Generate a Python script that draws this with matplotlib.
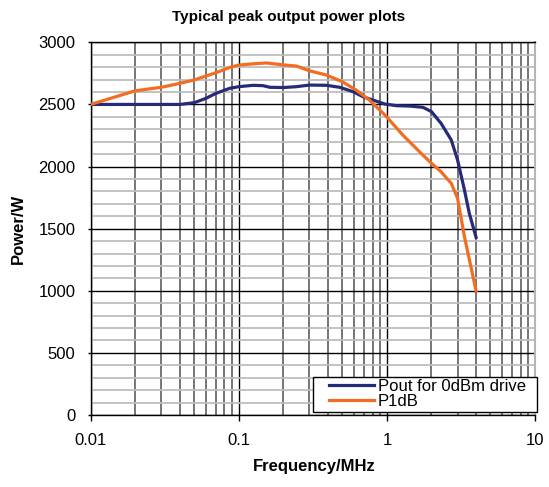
import numpy as np
import matplotlib.pyplot as plt
from matplotlib.lines import Line2D
from matplotlib.legend_handler import HandlerLine2D
from matplotlib.ticker import FixedLocator, LogLocator, NullFormatter

plt.rcParams['font.family'] = ['Liberation Sans', 'DejaVu Sans']

# Pout for 0dBm drive
freq_pout = [0.01, 0.02, 0.03, 0.04, 0.05, 0.06, 0.07, 0.087, 0.1, 0.125, 0.146, 0.162,
             0.2, 0.245, 0.3, 0.39, 0.48, 0.59, 0.69, 0.8, 0.97, 1.16, 1.42, 1.75,
             2.0, 2.32, 2.72, 3.0, 3.34, 3.6, 4.0]
pout = [2500, 2500, 2500, 2500, 2514, 2549, 2589, 2630, 2643, 2654, 2651, 2638,
        2636, 2643, 2656, 2654, 2638, 2603, 2562, 2536, 2503, 2490, 2487, 2477,
        2442, 2348, 2214, 2053, 1811, 1624, 1430]

# P1dB
freq_p1db = [0.01, 0.02, 0.03, 0.04, 0.05, 0.06, 0.07, 0.087, 0.1, 0.125, 0.154, 0.2,
             0.245, 0.3, 0.39, 0.5, 0.62, 0.76, 0.97, 1.28, 1.7, 2.0, 2.32, 2.72,
             3.0, 3.34, 4.0]
p1db = [2500, 2610, 2638, 2670, 2697, 2729, 2755, 2798, 2817, 2827, 2834, 2818,
        2809, 2771, 2737, 2683, 2616, 2536, 2415, 2254, 2107, 2026, 1958, 1865,
        1744, 1435, 1000]

series_labels = ['Pout for 0dBm drive', 'P1dB']
x_ticks = [0.01, 0.1, 1, 10]
x_tick_labels = ['0.01', '0.1', '1', '10']

fig = plt.figure(figsize=(5.49, 4.87), dpi=100)
ax = fig.add_axes([0.1652, 0.1478, 0.8093, 0.7653])

ax.set_xscale('log')
ax.set_xlim(0.01, 10)
ax.set_ylim(0, 3000)

# grid: light horizontal every 100, black every 500, dark verticals per log step
ax.yaxis.set_major_locator(FixedLocator(np.arange(0, 3001, 500)))
ax.yaxis.set_minor_locator(FixedLocator(np.arange(0, 3001, 100)))
ax.xaxis.set_major_locator(FixedLocator(x_ticks))
ax.xaxis.set_minor_locator(LogLocator(base=10, subs=np.arange(2, 10)))
ax.xaxis.set_minor_formatter(NullFormatter())
ax.set_xticklabels(x_tick_labels)

ax.grid(which='minor', axis='y', color='#bdbdbd', lw=1.3)
ax.grid(which='minor', axis='x', color='#505050', lw=1.1)
ax.grid(which='major', axis='both', color='black', lw=1.0)
ax.set_axisbelow(True)

ax.plot(freq_pout, pout, color='#262b78', lw=2.3, label=series_labels[0], zorder=3)
ax.plot(freq_p1db, p1db, color='#f26d21', lw=2.3, label=series_labels[1], zorder=3)

for s in ['left', 'bottom', 'top']:
    ax.spines[s].set_color('black')
    ax.spines[s].set_linewidth(1.0)
ax.spines['right'].set_color('#b5b5b5')
ax.spines['right'].set_linewidth(1.5)

ax.tick_params(axis='y', which='major', length=2.5, width=1, pad=8.5, labelsize=12)
ax.tick_params(axis='x', which='major', length=4, width=1, pad=9, labelsize=12)
ax.tick_params(axis='x', which='minor', length=0)
ax.tick_params(axis='y', which='minor', length=0)

ax.set_xlabel('Frequency/MHz', fontsize=12, fontweight='bold')
ax.set_ylabel('Power/W', fontsize=12, fontweight='bold')
ax.xaxis.set_label_coords((314 - 90.7) / 444.3, -(459 - 415) / 372.7)
ax.yaxis.set_label_coords(-(90.7 - 26) / 444.3, 0.5)

fig.text(289 / 549, 1 - 17 / 487, 'Typical peak output power plots',
         fontsize=11, fontweight='bold', ha='center', va='center')

leg = ax.legend(loc='lower left', mode='expand',
                bbox_to_anchor=(312.7 / 549, 1 - 411.7 / 487, 224 / 549, 36.7 / 487),
                bbox_transform=fig.transFigure, fontsize=12, frameon=True,
                fancybox=False, edgecolor='black', framealpha=1,
                borderpad=0.15, labelspacing=0.0, handlelength=3.5,
                handletextpad=0.25, borderaxespad=0,
                handler_map={Line2D: HandlerLine2D(xpad=0.8)})
leg.get_frame().set_linewidth(1.0)

fig.savefig('out.png', dpi=100)
